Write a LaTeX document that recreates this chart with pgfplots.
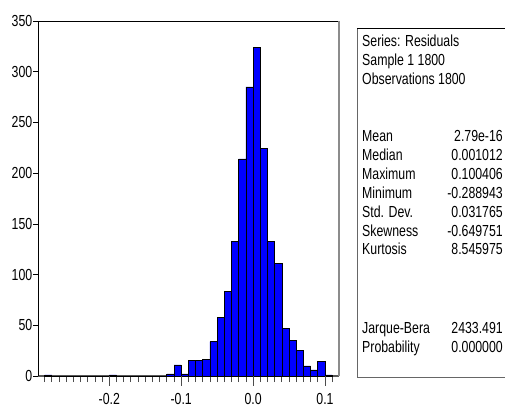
\documentclass[border=0pt]{standalone}
\usepackage{pgfplots}
\pgfplotsset{compat=1.18}
\usepackage{graphicx}
\usepackage{fontspec}
\setmainfont{Liberation Sans}
\newcommand{\nar}[1]{\scalebox{0.77}[1]{#1}}
\newcommand{\fs}{\fontsize{16}{19}\selectfont}
\begin{document}
\begin{tikzpicture}
\useasboundingbox (0pt,0pt) rectangle (505pt,-408pt);
\begin{axis}[
  at={(38pt,-21pt)}, anchor=north west,
  scale only axis, width=301pt, height=355pt,
  xmin=-0.2992, xmax=0.1195, ymin=0, ymax=350,
  axis x line*=bottom, axis y line*=left,
  axis line style={black, line width=0.8pt},
  x axis line style={black!65, line width=1.2pt},
  xtick={-0.2,-0.1,0,0.1},
  xticklabels={\nar{-0.2},\nar{-0.1},\nar{0.0},\nar{0.1}},
  minor xtick={-0.29,-0.28,-0.27,-0.26,-0.25,-0.24,-0.23,-0.22,-0.21,-0.19,-0.18,-0.17,-0.16,-0.15,-0.14,-0.13,-0.12,-0.11,-0.09,-0.08,-0.07,-0.06,-0.05,-0.04,-0.03,-0.02,-0.01,0.01,0.02,0.03,0.04,0.05,0.06,0.07,0.08,0.09,0.11},
  ytick={0,50,100,150,200,250,300,350},
  yticklabels={\nar{0},\nar{50},\nar{100},\nar{150},\nar{200},\nar{250},\nar{300},\nar{350}},
  tick align=outside,
  x tick style={black!70, line width=0.8pt},
  y tick style={black, line width=0.6pt},
  major tick length=5pt,
  minor tick length=6pt,
  tick label style={font=\fs},
  yticklabel style={inner sep=0.5pt},
  xticklabel style={inner sep=1pt, yshift=-11pt},
  clip=false,
]
\addplot[ybar interval, fill=blue, draw=black, line width=0.7pt] table {
x y
-0.29 1
-0.28 0
-0.27 0
-0.26 0
-0.25 0
-0.24 0
-0.23 0
-0.22 0
-0.21 0
-0.20 1
-0.19 0
-0.18 0
-0.17 0
-0.16 0
-0.15 0
-0.14 0
-0.13 0
-0.12 2
-0.11 11
-0.10 2
-0.09 15
-0.08 15
-0.07 16
-0.06 34
-0.05 58
-0.04 83
-0.03 133
-0.02 214
-0.01 285
0.00 324
0.01 224
0.02 133
0.03 111
0.04 47
0.05 35
0.06 25
0.07 10
0.08 6
0.09 14
0.10 1
0.11 1
};
\draw[black, line width=0.9pt] (rel axis cs:0,1) -- (rel axis cs:1,1);
\draw[black!45, line width=1.2pt] (rel axis cs:1,1) -- (rel axis cs:1,0);
\draw[black!70, line width=0.8pt] (axis cs:-0.2,0) -- ++(0pt,-10pt);
\draw[black!70, line width=0.8pt] (axis cs:-0.1,0) -- ++(0pt,-10pt);
\draw[black!70, line width=0.8pt] (axis cs:0,0) -- ++(0pt,-10pt);
\draw[black!70, line width=0.8pt] (axis cs:0.1,0) -- ++(0pt,-10pt);
\end{axis}
% stats box
\draw[black!60, line width=0.8pt] (506pt,-377pt) -- (357pt,-377pt) -- (357pt,-28pt);
\draw[black, line width=0.9pt] (357pt,-28pt) -- (506pt,-28pt);
\begin{scope}[every node/.style={inner sep=0pt, font=\fs}]
\node[anchor=base west] at (362pt,-46pt) {\nar{Series: Residuals}};
\node[anchor=base west] at (362pt,-65pt) {\nar{Sample 1 1800}};
\node[anchor=base west] at (362pt,-84pt) {\nar{Observations 1800}};
\node[anchor=base west] at (362pt,-141pt) {\nar{Mean}};
\node[anchor=base east] at (503pt,-141pt) {\nar{2.79e-16}};
\node[anchor=base west] at (362pt,-160pt) {\nar{Median}};
\node[anchor=base east] at (503pt,-160pt) {\nar{0.001012}};
\node[anchor=base west] at (362pt,-179pt) {\nar{Maximum}};
\node[anchor=base east] at (503pt,-179pt) {\nar{0.100406}};
\node[anchor=base west] at (362pt,-198pt) {\nar{Minimum}};
\node[anchor=base east] at (503pt,-198pt) {\nar{-0.288943}};
\node[anchor=base west] at (362pt,-217pt) {\nar{Std. Dev.}};
\node[anchor=base east] at (503pt,-217pt) {\nar{0.031765}};
\node[anchor=base west] at (362pt,-236pt) {\nar{Skewness}};
\node[anchor=base east] at (503pt,-236pt) {\nar{-0.649751}};
\node[anchor=base west] at (362pt,-254pt) {\nar{Kurtosis}};
\node[anchor=base east] at (503pt,-254pt) {\nar{8.545975}};
\node[anchor=base west] at (362pt,-333pt) {\nar{Jarque-Bera}};
\node[anchor=base east] at (503pt,-333pt) {\nar{2433.491}};
\node[anchor=base west] at (362pt,-352pt) {\nar{Probability}};
\node[anchor=base east] at (503pt,-352pt) {\nar{0.000000}};
\end{scope}
\end{tikzpicture}
\end{document}
